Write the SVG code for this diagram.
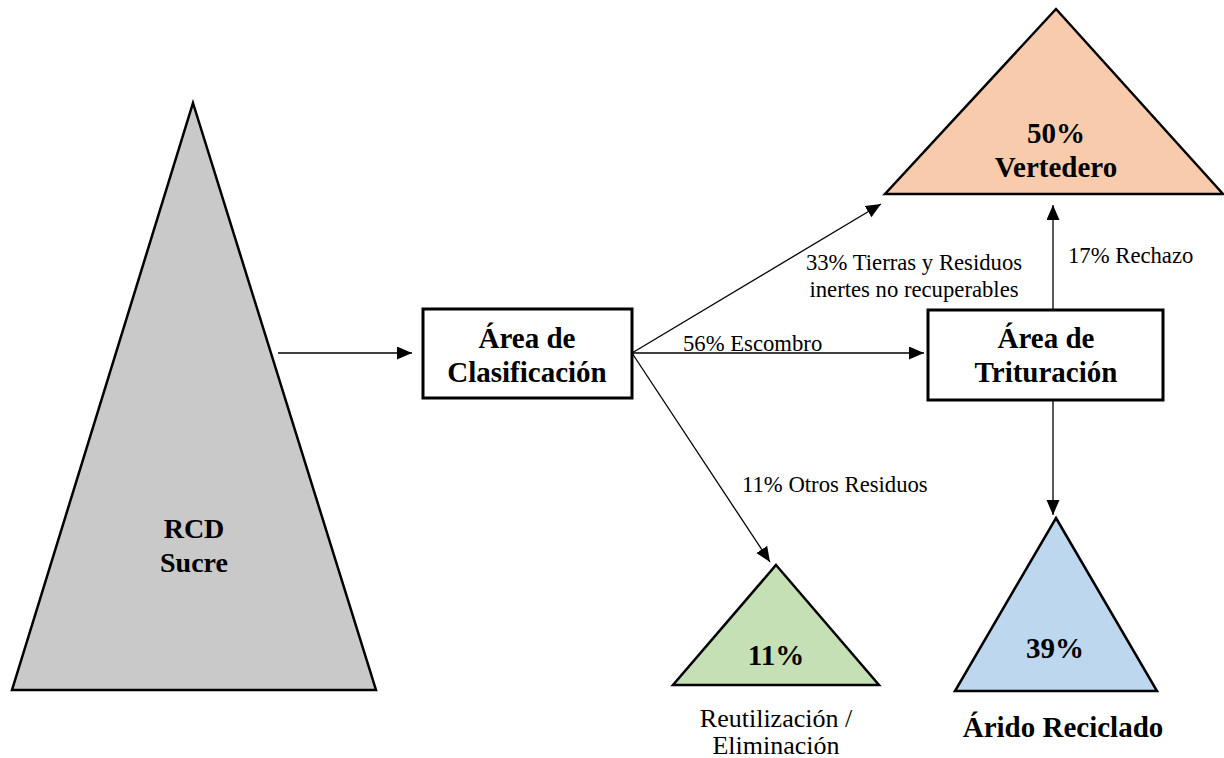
<svg xmlns="http://www.w3.org/2000/svg" width="1224" height="758" viewBox="0 0 1224 758">
<style>
  .tri { stroke: #000; stroke-width: 2.5; }
  .box { fill: #fff; stroke: #000; stroke-width: 3; }
  .b { font-family: "Liberation Serif", "Times New Roman", serif; font-weight: bold; font-size: 29px; text-anchor: middle; fill: #000; }
  .l { font-family: "Liberation Serif", "Times New Roman", serif; font-size: 22.7px; fill: #000; }
  .c { text-anchor: middle; }
  .big { font-size: 26px; }
  .con line { stroke: #000; stroke-width: 1.3; marker-end: url(#ah); }
</style>
<defs>
  <marker id="ah" markerUnits="userSpaceOnUse" markerWidth="16" markerHeight="14" refX="15" refY="6.5" orient="auto">
    <path d="M0,0 L15,6.5 L0,13 z" fill="#000"/>
  </marker>
</defs>
<rect width="1224" height="758" fill="#fff"/>
<g id="rcd">
  <polygon class="tri" points="193,103 376,690 12,690" fill="#c9c9c9"/>
  <text class="b" x="194" y="538" style="font-size:28px">RCD</text>
  <text class="b" x="194" y="572" style="font-size:28px">Sucre</text>
</g>
<g id="clasificacion">
  <rect class="box" x="423" y="309" width="209" height="89"/>
  <text class="b" x="527" y="348">Área de</text>
  <text class="b" x="527" y="382">Clasificación</text>
</g>
<g id="trituracion">
  <rect class="box" x="928" y="310" width="235" height="90"/>
  <text class="b" x="1046" y="348">Área de</text>
  <text class="b" x="1046" y="382">Trituración</text>
</g>
<g id="vertedero">
  <polygon class="tri" points="1056,9 1223,194 885,194" fill="#f8cbad"/>
  <text class="b" x="1056" y="143">50%</text>
  <text class="b" x="1056" y="177">Vertedero</text>
</g>
<g id="otros">
  <polygon class="tri" points="776,565 879,685 673,685" fill="#c5e0b4"/>
  <text class="b" x="776" y="665">11%</text>
  <text class="l c big" x="776" y="727">Reutilización /</text>
  <text class="l c big" x="776" y="754">Eliminación</text>
</g>
<g id="arido">
  <polygon class="tri" points="1056,518 1157,691 955,691" fill="#bdd7ee"/>
  <text class="b" x="1055" y="658">39%</text>
  <text class="b" x="1063" y="737">Árido Reciclado</text>
</g>
<g id="connectors" class="con">
  <line x1="278" y1="353" x2="412" y2="353"/>
  <line x1="632" y1="353" x2="881" y2="204"/>
  <line x1="632" y1="353" x2="924" y2="353"/>
  <line x1="632" y1="353" x2="770" y2="562"/>
  <line x1="1053" y1="310" x2="1053" y2="205"/>
  <line x1="1053" y1="400" x2="1053" y2="515"/>
</g>
<g id="labels">
  <text class="l c" x="914" y="270">33% Tierras y Residuos</text>
  <text class="l c" x="914" y="297">inertes no recuperables</text>
  <text class="l" x="1068" y="263">17% Rechazo</text>
  <text class="l" x="683" y="351">56% Escombro</text>
  <text class="l" x="742" y="492">11% Otros Residuos</text>
</g>
</svg>
